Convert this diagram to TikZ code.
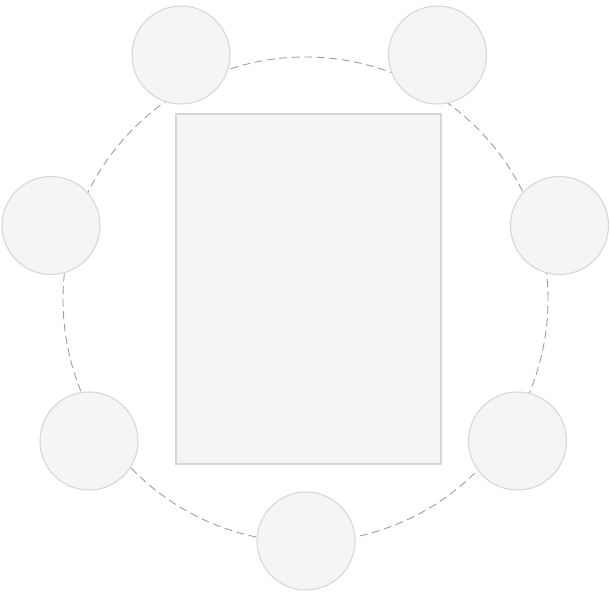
\documentclass[tikz,border=0pt]{standalone}
\usepackage{tikz}
\usetikzlibrary{shapes.geometric}
\definecolor{seatfill}{HTML}{F5F5F5}
\definecolor{seatline}{HTML}{D6D6D6}
\definecolor{ringline}{HTML}{9C9C9C}
\tikzset{
every picture/.style={line width=0.6pt},
%%%%%%%%%%  Node styles
seat/.style={circle,draw=seatline,fill=seatfill,minimum size=1.96cm,
             inner sep=0, outer sep=0},
tablebox/.style={draw=seatline,fill=seatfill,minimum width=5.3cm,
                 minimum height=7cm, inner sep=0},
%%%% line styles:
ring/.style={draw=ringline,line width=0.5pt,dash pattern=on 4.5pt off 2.6pt}
}

\begin{document}
\begin{tikzpicture}
\useasboundingbox (0,0) rectangle (12.2,-11.92);
\coordinate (mid) at (6.11,-5.99);
\draw[ring] (mid) circle (4.85cm);
\node[tablebox] (tbl) at (6.17,-5.78) {};
\node[seat] (seatNW) at (3.62,-1.10) {};
\node[seat] (seatNE) at (8.75,-1.10) {};
\node[seat] (seatW) at (1.02,-4.51) {};
\node[seat] (seatE) at (11.19,-4.51) {};
\node[seat] (seatSW) at (1.78,-8.82) {};
\node[seat] (seatSE) at (10.35,-8.82) {};
\node[seat] (seatS) at (6.12,-10.82) {};
\end{tikzpicture}
\end{document}
